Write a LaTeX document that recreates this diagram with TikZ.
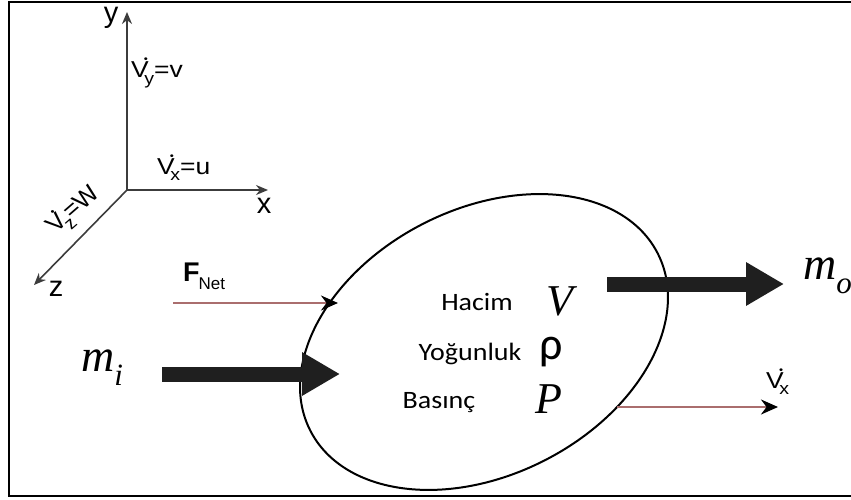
\documentclass[tikz,border=0pt]{standalone}
\usepackage{fontspec}
\setmainfont{Carlito}
\newfontfamily\arialf{Liberation Sans}
\newfontfamily\serif{Liberation Serif}
\usetikzlibrary{arrows.meta,shapes.geometric}
\definecolor{rosy}{RGB}{170,110,110}
\definecolor{axisgray}{RGB}{60,60,60}
\newcommand{\vdot}[1]{V\kern-0.08em\raisebox{0.62em}{\fontsize{10}{10}\selectfont\kern-0.24em\textbullet}\kern-0.14em\raisebox{-0.3em}{\fontsize{17}{17}\selectfont #1}}
\tikzset{
  axisline/.style={draw=axisgray, line width=1.6pt, -{Stealth[length=12pt,width=10pt]}},
  axislabel/.style={font=\arialf\fontsize{29}{29}\selectfont, inner sep=0pt},
  vlabel/.style={font=\arialf\fontsize{23}{23}\selectfont, xscale=1.15, inner sep=0pt},
  thinarrow/.style={draw=rosy, line width=2.2pt, -{Stealth[length=17pt,width=15pt,black]}},
  fatarrow/.style={draw=black!88, line width=15pt, -{Triangle[length=38pt,width=41pt]}},
  prop/.style={font=\fontsize{25}{25}\selectfont, xscale=1.12, anchor=base, inner sep=0pt},
  sym/.style={font=\serif\itshape\fontsize{44}{44}\selectfont, anchor=base, inner sep=0pt},
  mass/.style={font=\serif\itshape\fontsize{46}{46}\selectfont, inner sep=0pt},
}
\begin{document}
\begin{tikzpicture}[x=1pt, y=-1pt]
\useasboundingbox (0,0) rectangle (851,500);
% frame
\draw[line width=2.5pt] (851,2) -- (9,2) -- (9,496) -- (851,496);
% control volume
\node[draw, ellipse, line width=2pt, rotate=27, minimum width=390pt, minimum height=266pt] (cv) at (484,342) {};
% axes
\coordinate (o) at (127,190);
\coordinate (ytip) at (127,12);
\coordinate (xtip) at (268,190);
\coordinate (ztip) at (34,285);
\draw[axisline] (o) -- (ytip);
\draw[axisline] (o) -- (xtip);
\draw[axisline] (o) -- (ztip);
\node[axislabel] (ly) at (111,18) {y};
\node[axislabel] (lx) at (264,206) {x};
\node[axislabel] (lz) at (56,289) {z};
\node[vlabel, anchor=west] (vy) at (131,73) {\vdot{y}=v};
\node[vlabel, anchor=west] (vx) at (157,168) {\vdot{x}=u};
\node[vlabel, rotate=45] (vz) at (74,210) {\vdot{z}=W};
% F_Net
\node[inner sep=0pt, anchor=west] (fnet) at (183,276) {\arialf\bfseries\fontsize{27}{27}\selectfont F\kern-0.04em\raisebox{-0.3em}{\mdseries\fontsize{17}{17}\selectfont Net}};
\coordinate (fstart) at (173,303);
\coordinate (fend) at (338,303);
\draw[thinarrow] (fstart) -- (fend);
% mass in
\node[mass] (mi) at (102,368) {m\raisebox{-0.3em}{\fontsize{31}{31}\selectfont i}};
\coordinate (mistart) at (162,374);
\coordinate (miend) at (340,374);
\draw[fatarrow] (mistart) -- (miend);
% mass out
\coordinate (mostart) at (607,284);
\coordinate (moend) at (784,284);
\draw[fatarrow] (mostart) -- (moend);
\node[mass, anchor=west] (mo) at (803,276) {m\raisebox{-0.3em}{\fontsize{31}{31}\selectfont o}};
% V_x out
\coordinate (vstart) at (617,407);
\coordinate (vend) at (778,407);
\draw[thinarrow] (vstart) -- (vend);
\node[vlabel, anchor=west] (vxo) at (766,382) {\vdot{x}};
% properties
\node[prop] (hacim) at (477,310) {Hacim};
\node[prop] (yog) at (470,360) {Yoğunluk};
\node[prop] (bas) at (439,408) {Basınç};
\node[sym] (symV) at (560,315) {V};
\node[font=\fontsize{46}{46}\selectfont, inner sep=0pt] (symrho) at (551,352) {ρ};
\node[sym] (symP) at (549,413) {P};
\end{tikzpicture}
\end{document}
